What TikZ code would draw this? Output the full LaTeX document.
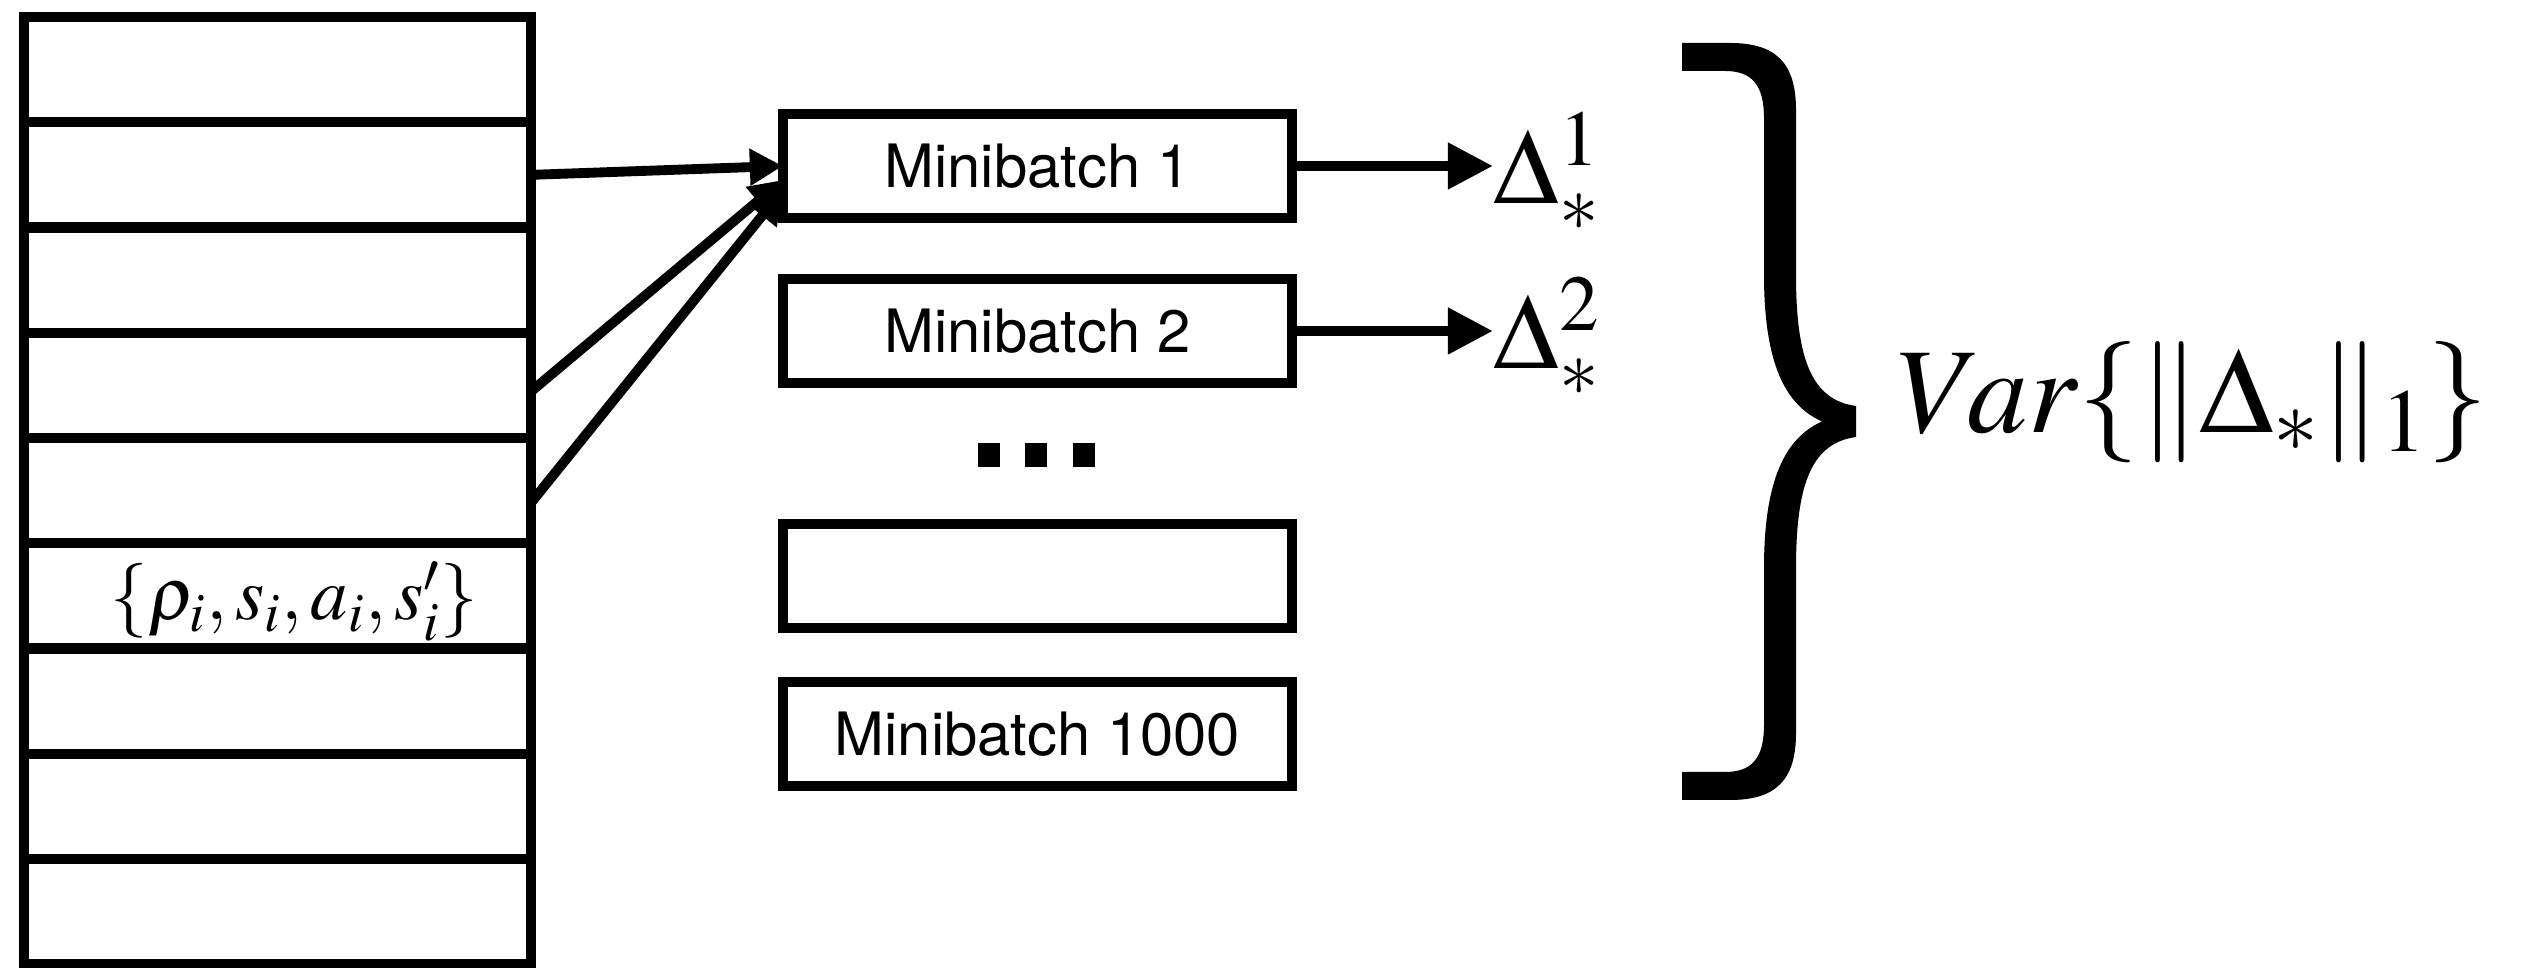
\documentclass[tikz,border=0pt]{standalone}
\usepackage{mathptmx}
\usepackage[no-math]{fontspec}
\newfontfamily\mbfont{TeX Gyre Heros}
\usetikzlibrary{arrows.meta,calc}
\begin{document}
\begin{tikzpicture}[x=0.01cm,y=-0.01cm,
  cell/.style={draw, line width=2.9pt, minimum width=50.7mm, minimum height=10.525mm, inner sep=0pt, outer sep=0pt},
  mb/.style={draw, line width=3pt, minimum width=50.9mm, minimum height=10.4mm, inner sep=0pt, outer sep=0pt, font={\mbfont\fontsize{17}{20}\selectfont}},
  arr/.style={line width=3pt, -{Triangle[length=4.5mm,width=4.4mm]}},
  inarr/.style={line width=2.8pt, -{Triangle[length=3.3mm,width=3.5mm]}},
  dotbox/.style={fill, minimum width=2.2mm, minimum height=2.4mm, inner sep=0pt},
  lbl/.style={inner sep=0pt, anchor=base west}]
\useasboundingbox (0,0) rectangle (2524,968);
% replay memory column
\foreach \i in {1,...,9}
  \node[cell] (r\i) at (277.5,{17+105.25*(\i-0.5)}) {};
\node[lbl, font={\fontsize{21.3}{25}\selectfont}] (tup) at (110,620) {$\{\rho_i, s_i, a_i, s'_i\}$};
% minibatches
\node[mb] (b1) at (1037.5,166) {Minibatch 1};
\node[mb] (b2) at (1037.5,331) {Minibatch 2};
\node[mb] (b3) at (1037.5,576) {};
\node[mb] (b4) at (1037.5,734) {Minibatch 1000};
\node[dotbox] (dt1) at (989,455) {};
\node[dotbox] (dt2) at (1036,455) {};
\node[dotbox] (dt3) at (1084,455) {};
% deltas
\node[lbl, font={\fontsize{30.4}{36}\selectfont}] (D1) at (1493,204) {$\Delta^1_*$};
\node[lbl, font={\fontsize{30.4}{36}\selectfont}] (D2) at (1493,369) {$\Delta^2_*$};
\draw[arr] (b1.east) -- (b1.east -| D1.west);
\draw[arr] (b2.east) -- (b2.east -| D2.west);
% sampling arrows
\draw[inarr] (r2.east) -- (b1.west);
\draw[inarr] ($(r4.east)+(0,6)$) -- ($(b1.west)+(0,14)$);
\draw[inarr] ($(r5.east)+(0,12)$) -- ($(b1.west)+(0,24)$);
% brace
\fill (1682,43) -- (1730,43) .. controls (1775,43) and (1796,62) .. (1796,110)
  -- (1796,275) .. controls (1796,360) and (1812,400) .. (1856,406)
  -- (1856,437) .. controls (1812,443) and (1796,483) .. (1796,568)
  -- (1796,733) .. controls (1796,781) and (1775,800) .. (1730,800)
  -- (1682,800) -- (1682,772) -- (1725,772) .. controls (1752,772) and (1764,758) .. (1764,725)
  -- (1764,568) .. controls (1764,480) and (1785,438) .. (1822,421.5)
  .. controls (1785,405) and (1764,363) .. (1764,275)
  -- (1764,118) .. controls (1764,85) and (1752,71) .. (1725,71) -- (1682,71) -- cycle;
\node[lbl, font={\fontsize{34.5}{40}\selectfont}] (var) at (1897,433) {$Var\{\|\Delta_*\|_1\}$};
\end{tikzpicture}
\end{document}
